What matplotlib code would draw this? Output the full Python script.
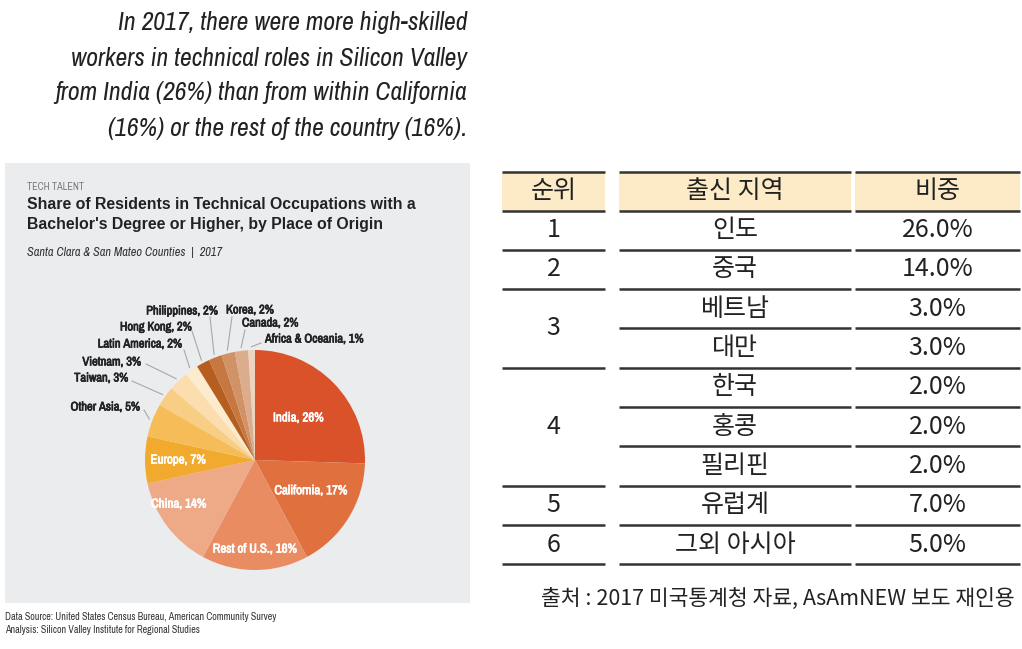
import numpy as np
import matplotlib
matplotlib.use("Agg")
import matplotlib.pyplot as plt
import matplotlib.patheffects as pe
from matplotlib.patches import Rectangle
from matplotlib import font_manager
from matplotlib.font_manager import FontProperties

W, H = 1022, 649

# pie data (clockwise from 12 o'clock)
origins = ["India", "California", "Rest of U.S.", "China", "Europe", "Other Asia",
           "Taiwan", "Vietnam", "Latin America", "Hong Kong", "Philippines",
           "Korea", "Canada", "Africa & Oceania"]
shares = [26, 17, 16, 14, 7, 5, 3, 3, 2, 2, 2, 2, 2, 1]
colors = ["#d9522a", "#e0713f", "#e98c62", "#eea986", "#f2aa2e", "#f5bc58",
          "#f8cd84", "#fbddae", "#fdebcd", "#b65e20", "#c77840", "#d19366",
          "#dcad8c", "#ecd4c0"]

# table data
ranks = [1, 2, 3, 3, 4, 4, 4, 5, 6]
regions_kr = ["인도", "중국", "베트남", "대만", "한국", "홍콩", "필리핀", "유럽계", "그외 아시아"]
shares_kr = [26.0, 14.0, 3.0, 3.0, 2.0, 2.0, 2.0, 7.0, 5.0]
headers_kr = ["순위", "출신 지역", "비중"]

# condensed faces if any are installed
fonts = font_manager.fontManager.ttflist
cond = [f for f in fonts if ("Narrow" in f.name or "Condensed" in f.name
                             or str(f.stretch) in ("condensed", "semi-condensed"))]


def _w(f):
    w = f.weight
    if isinstance(w, str):
        return font_manager.weight_dict.get(w, 400)
    return w


def _faces(name):
    return [f for f in cond if f.name == name]


cond_names = sorted({f.name for f in cond})
italic_names = [n for n in cond_names if any(f.style == "italic" for f in _faces(n))]
main_name = italic_names[0] if italic_names else (cond_names[0] if cond_names else None)


def narrow(size, style="normal"):
    if main_name:
        best = min(_faces(main_name), key=lambda f: (f.style != style, abs(_w(f) - 400)))
        return FontProperties(fname=best.fname, size=size)
    return FontProperties(family="DejaVu Sans", style=style, size=size * 0.85)


def bold_text(axis, x, y, s, size, color, **kw):
    # heavier strokes on the condensed face
    t = axis.text(x, y, s, fontproperties=narrow(size), color=color, **kw)
    t.set_path_effects([pe.withStroke(linewidth=0.5, foreground=color)])
    return t


KR = ["Noto Sans CJK KR", "DejaVu Sans"]

fig = plt.figure(figsize=(W / 100, H / 100), dpi=100)
fig.patch.set_facecolor("white")


def fx(x):
    return x / W


def fy(y):
    return 1 - y / H


# headline
headline = ["In 2017, there were more high-skilled",
            "workers in technical roles in Silicon Valley",
            "from India (26%) than from within California",
            "(16%) or the rest of the country (16%)."]
for i, line in enumerate(headline):
    fig.text(fx(467), fy(23 + i * 35), line, ha="right", va="center",
             fontproperties=narrow(18.5, "italic"), color="#222222")

# gray panel
fig.patches.append(Rectangle((fx(5), fy(603)), fx(465), 440 / H,
                             transform=fig.transFigure, facecolor="#ebecee",
                             edgecolor="none", zorder=-5))
fig.text(fx(27), fy(187), "TECH TALENT", fontproperties=narrow(7.3),
         color="#7a7a7a", va="center")
fig.text(fx(27), fy(205), "Share of Residents in Technical Occupations with a",
         fontsize=11.4, weight="bold", color="#222222", va="center",
         family="Liberation Sans")
fig.text(fx(27), fy(225), "Bachelor's Degree or Higher, by Place of Origin",
         fontsize=11.4, weight="bold", color="#222222", va="center",
         family="Liberation Sans")
fig.text(fx(27), fy(252), "Santa Clara & San Mateo Counties  |  2017",
         fontproperties=narrow(8.9, "italic"), color="#333333", va="center")
fig.text(fx(5), fy(617), "Data Source: United States Census Bureau, American Community Survey",
         fontproperties=narrow(7.2), color="#333333", va="center")
fig.text(fx(5), fy(630), "Analysis: Silicon Valley Institute for Regional Studies",
         fontproperties=narrow(7.2), color="#333333", va="center")

# pie
cx, cy, r = 255, 460, 110
ax = fig.add_axes([fx(cx - r), fy(cy + r), 2 * r / W, 2 * r / H], zorder=2)
ax.patch.set_visible(False)
wedges, _ = ax.pie(shares, colors=colors, startangle=90, counterclock=False,
                   wedgeprops=dict(linewidth=0))
ax.set_xlim(-1, 1)
ax.set_ylim(-1, 1)
ax.set_aspect("equal")
ax.axis("off")

# label radius and angle nudge (deg) for the labels inside the pie
inner_r = {"India": (0.55, 0), "California": (0.58, 3), "Rest of U.S.": (0.81, 0),
           "China": (0.8, -7), "Europe": (0.7, 0)}
outer_text = {"Other Asia": (140, 407), "Taiwan": (128, 378), "Vietnam": (141, 362),
              "Latin America": (182, 344), "Hong Kong": (192, 327),
              "Philippines": (218, 311), "Korea": (226, 310), "Canada": (242, 323),
              "Africa & Oceania": (265, 339)}
line_start = {"Other Asia": (144, 410), "Taiwan": (132, 381), "Vietnam": (146, 364),
              "Latin America": (184, 350), "Hong Kong": (192, 331),
              "Philippines": (210, 317), "Korea": (232, 317), "Canada": (245, 330),
              "Africa & Oceania": (261, 343)}

for w, name, val in zip(wedges, origins, shares):
    mid = np.deg2rad((w.theta1 + w.theta2) / 2)
    label = f"{name}, {val}%"
    if name in inner_r:
        rr, nudge = inner_r[name]
        a = mid + np.deg2rad(nudge)
        bold_text(ax, rr * np.cos(a), rr * np.sin(a), label, 9.3, "white",
                  ha="center", va="center")
    else:
        tx, ty = outer_text[name]
        ha = "left" if name in ("Korea", "Canada", "Africa & Oceania") else "right"
        bold_text(ax, (tx - cx) / r, (cy - ty) / r, label, 9.0, "#222222",
                  ha=ha, va="center")
        sx, sy = line_start[name]
        ax.plot([(sx - cx) / r, 1.03 * np.cos(mid)], [(cy - sy) / r, 1.03 * np.sin(mid)],
                color="#a8a8a8", lw=0.8, clip_on=False)

# table
tax = fig.add_axes([fx(490), fy(620), fx(532), 460 / H])
tax.set_xlim(490, 1022)
tax.set_ylim(620, 160)
tax.axis("off")
cols = [(502, 605), (619, 851), (855, 1020)]
top, head_h, row_h = 172, 38.5, 39.3
line_kw = dict(color="#333333", lw=1.8, solid_capstyle="butt")
tfs = 18

for (x0, x1), txt in zip(cols, headers_kr):
    tax.add_patch(Rectangle((x0, top), x1 - x0, head_h, facecolor="#fdebc7",
                            edgecolor="none"))
    tax.text((x0 + x1) / 2, top + head_h / 2, txt, ha="center", va="center",
             fontsize=tfs, family=KR, color="#222222")
    tax.plot([x0, x1], [top, top], **line_kw)
    tax.plot([x0, x1], [top + head_h, top + head_h], **line_kw)

body0 = top + head_h
n = len(ranks)
for i in range(n):
    yc = body0 + (i + 0.5) * row_h
    yb = body0 + (i + 1) * row_h
    for (x0, x1), txt in zip(cols[1:], [regions_kr[i], f"{shares_kr[i]:.1f}%"]):
        tax.text((x0 + x1) / 2, yc, txt, ha="center", va="center",
                 fontsize=tfs, family=KR, color="#222222")
        tax.plot([x0, x1], [yb, yb], **line_kw)
    if i == n - 1 or ranks[i + 1] != ranks[i]:
        tax.plot(list(cols[0]), [yb, yb], **line_kw)

for rk in sorted(set(ranks)):
    idx = [i for i, v in enumerate(ranks) if v == rk]
    yc = body0 + (idx[0] + idx[-1] + 1) / 2 * row_h
    tax.text(sum(cols[0]) / 2, yc, str(rk), ha="center", va="center",
             fontsize=tfs, family=KR, color="#222222")

tax.text(1015, 599, "출처 : 2017 미국통계청 자료, AsAmNEW 보도 재인용", ha="right",
         va="center", fontsize=15.5, family=KR, color="#222222")

fig.savefig("out.png", dpi=100)
